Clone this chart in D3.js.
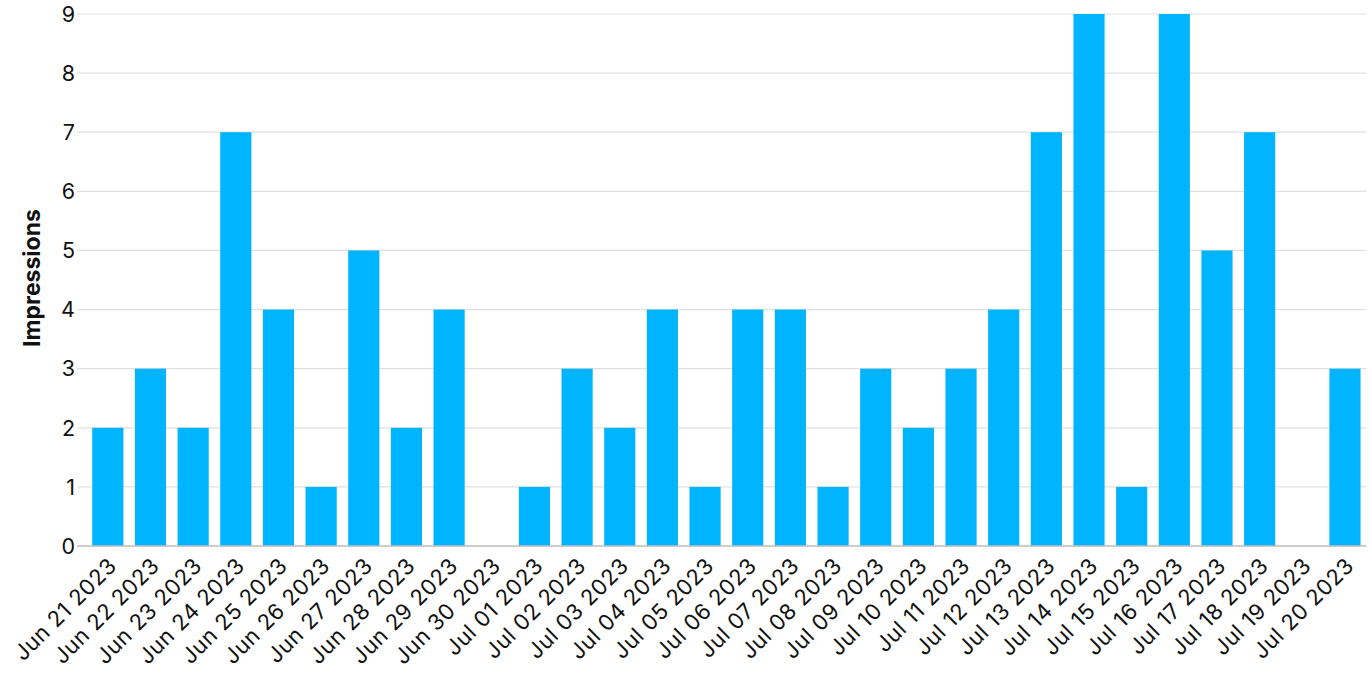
<!DOCTYPE html>
<html><head><meta charset="utf-8">
<script src="https://cdn.jsdelivr.net/npm/d3@7"></script>
<style>html,body{margin:0;padding:0;background:#fff;}svg{display:block;font-family:Inter,"Noto Sans",sans-serif;}</style>
</head><body>
<svg id="c" width="1372" height="686"></svg>
<script>
const categories = ["Jun 21 2023","Jun 22 2023","Jun 23 2023","Jun 24 2023","Jun 25 2023","Jun 26 2023","Jun 27 2023","Jun 28 2023","Jun 29 2023","Jun 30 2023","Jul 01 2023","Jul 02 2023","Jul 03 2023","Jul 04 2023","Jul 05 2023","Jul 06 2023","Jul 07 2023","Jul 08 2023","Jul 09 2023","Jul 10 2023","Jul 11 2023","Jul 12 2023","Jul 13 2023","Jul 14 2023","Jul 15 2023","Jul 16 2023","Jul 17 2023","Jul 18 2023","Jul 19 2023","Jul 20 2023"];
const impressions = [2,3,2,7,4,1,5,2,4,0,1,3,2,4,1,4,4,1,3,2,3,4,7,9,1,9,5,7,0,3];
const yTicks = [0,1,2,3,4,5,6,7,8,9];

(function(){
const svg = d3.select("#c");
const mL = 86.5, mR = 1366.3, mT = 14, mB = 546;
const x = d3.scaleBand().domain(categories).range([mL, mR]).paddingInner(0.27).paddingOuter(0.135);
const y = d3.scaleLinear().domain([0, 9]).range([mB, mT]);

svg.append("g").selectAll("line").data(yTicks.filter(d=>d>0)).join("line")
  .attr("x1", 77).attr("x2", mR).attr("y1", d=>y(d)).attr("y2", d=>y(d))
  .attr("stroke", "#e0e0e0").attr("stroke-width", 1.2);

svg.append("g").selectAll("text").data(yTicks).join("text")
  .attr("x", 75).attr("y", d=>y(d)).attr("dy", "0.36em")
  .attr("text-anchor", "end").attr("font-size", 21.5).attr("fill", "#111")
  .text(d=>d);

svg.append("g").selectAll("rect").data(impressions).join("rect")
  .attr("x", (d,i)=>x(categories[i])).attr("width", x.bandwidth())
  .attr("y", d=>y(d)).attr("height", d=>y(0)-y(d))
  .attr("fill", "#00b4ff");

svg.append("line").attr("x1", 77).attr("x2", mR).attr("y1", mB).attr("y2", mB)
  .attr("stroke", "#bdbdbd").attr("stroke-width", 1.5);

svg.append("g").selectAll("text").data(categories).join("text")
  .attr("transform", d=>`translate(${x(d)+x.bandwidth()/2-1},${mB+10}) rotate(-45)`)
  .attr("text-anchor", "end").attr("dy", "0.72em").attr("font-size", 22)
  .attr("letter-spacing", "0.6px").attr("fill", "#111")
  .text(d=>d);

svg.append("text").attr("transform", `translate(40,278) rotate(-90)`)
  .attr("text-anchor", "middle").attr("font-size", 23).attr("font-weight", "bold").attr("fill", "#111")
  .text("Impressions");
})();
</script>
</body></html>
